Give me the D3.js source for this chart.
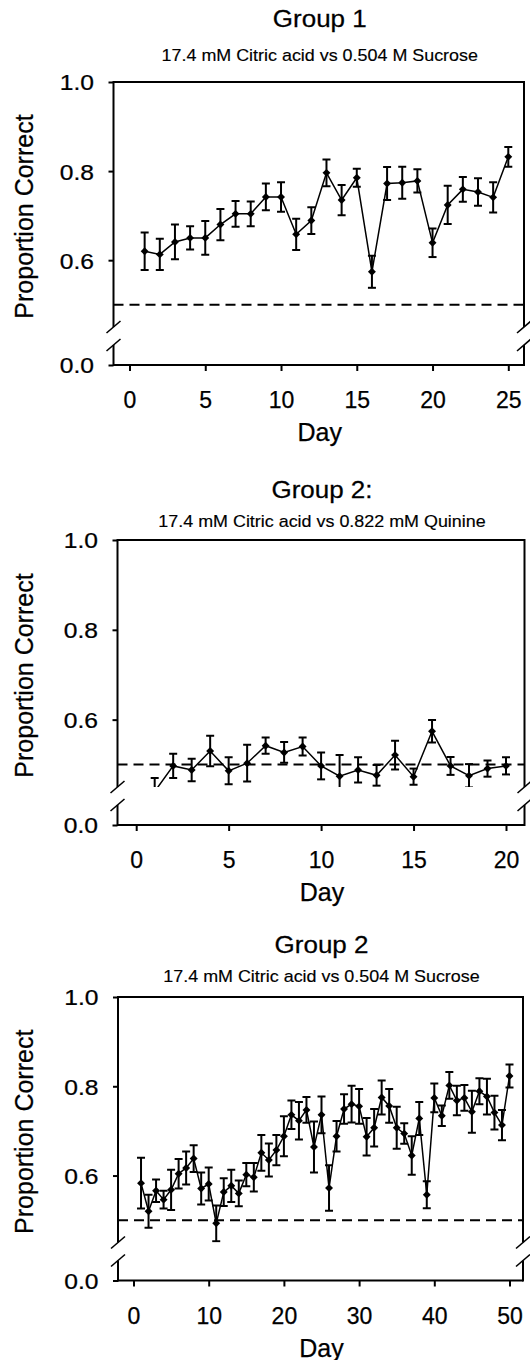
<!DOCTYPE html>
<html><head><meta charset="utf-8">
<script src="https://cdn.jsdelivr.net/npm/d3@7"></script>
<style>
body{margin:0;background:#fff}
svg{display:block;background:#fff}
text{font-family:"Liberation Sans",Arial,sans-serif;fill:#000;stroke:#000;stroke-width:0.25px}
</style>
</head><body>
<svg id="chart" width="530" height="1360"></svg>
<script>
// ---------- DATA ----------
const g1Days = [1,2,3,4,5,6,7,8,9,10,11,12,13,14,15,16,17,18,19,20,21,22,23,24,25];
const g1Mean = [0.620,0.613,0.641,0.650,0.650,0.680,0.704,0.704,0.742,0.742,0.658,0.689,0.796,0.735,0.785,0.574,0.772,0.774,0.778,0.639,0.724,0.759,0.753,0.741,0.832];
const g1Err  = [0.042,0.035,0.039,0.026,0.038,0.035,0.029,0.028,0.030,0.033,0.035,0.030,0.030,0.034,0.020,0.036,0.037,0.036,0.026,0.032,0.043,0.028,0.031,0.034,0.022];

const g2Days = [1,2,3,4,5,6,7,8,9,10,11,12,13,14,15,16,17,18,19,20];
const g2Mean = [0.440,0.497,0.488,0.530,0.486,0.503,0.542,0.527,0.540,0.497,0.474,0.488,0.476,0.521,0.473,0.574,0.497,0.475,0.491,0.497];
const g2Err  = [0.030,0.027,0.025,0.034,0.030,0.041,0.018,0.023,0.020,0.030,0.047,0.028,0.023,0.032,0.018,0.025,0.020,0.026,0.018,0.019];

const g3Days = [1,2,3,4,5,6,7,8,9,10,11,12,13,14,15,16,17,18,19,20,21,22,23,24,25,26,27,28,29,30,31,32,33,34,35,36,37,38,39,40,41,42,43,44,45,46,47,48,49,50];
const g3Mean = [0.583,0.520,0.566,0.546,0.568,0.604,0.617,0.638,0.571,0.581,
                0.493,0.563,0.577,0.560,0.602,0.596,0.651,0.635,0.657,0.688,
                0.736,0.723,0.747,0.664,0.736,0.572,0.688,0.749,0.760,0.755,
                0.687,0.707,0.775,0.756,0.707,0.694,0.645,0.728,0.557,0.774,
                0.734,0.802,0.768,0.774,0.743,0.789,0.777,0.741,0.713,0.823];
const g3Err  = [0.057,0.037,0.025,0.020,0.045,0.033,0.037,0.030,0.036,0.037,
                0.040,0.031,0.036,0.029,0.026,0.032,0.040,0.037,0.034,0.045,
                0.032,0.042,0.029,0.057,0.041,0.051,0.034,0.033,0.041,0.039,
                0.042,0.042,0.038,0.038,0.047,0.023,0.043,0.037,0.030,0.032,
                0.023,0.030,0.033,0.029,0.047,0.029,0.040,0.038,0.034,0.026];

const g1XTicks = [0,5,10,15,20,25];
const g2XTicks = [0,5,10,15,20];
const g3XTicks = [0,10,20,30,40,50];
const yTicksUpper = [0.6,0.8,1.0];
const yTicksLower = [0.0];
const chanceLevel = 0.5;
const breakValue = 0.45;

const titles = ["Group 1","Group 2:","Group 2"];
const subtitles = ["17.4 mM Citric acid vs 0.504 M Sucrose",
                   "17.4 mM Citric acid vs 0.822 mM Quinine",
                   "17.4 mM Citric acid vs 0.504 M Sucrose"];
const yLabel = "Proportion Correct";
const xLabel = "Day";

// ---------- LAYOUT ----------
const panels = [
  {title:titles[0], sub:subtitles[0], days:g1Days, mean:g1Mean, err:g1Err, xMax:25, xTicks:g1XTicks,
   L:113.5, R:524, T:82, B:365, x0:129.5, x1:508.3, titleY:27, subY:61},
  {title:titles[1], sub:subtitles[1], days:g2Days, mean:g2Mean, err:g2Err, xMax:20, xTicks:g2XTicks,
   L:117.5, R:524.5, T:540, B:825, x0:136.2, x1:506, titleY:498, subY:527},
  {title:titles[2], sub:subtitles[2], days:g3Days, mean:g3Mean, err:g3Err, xMax:50, xTicks:g3XTicks,
   L:118, R:523, T:997, B:1280.5, x0:133.5, x1:509.5, titleY:953, subY:982}
];

const svg = d3.select("#chart");
const fmt = d3.format(".1f");
const Y_STRETCH = 1.12;

panels.forEach((p, i) => {
  const g = svg.append("g");
  const brkY = p.B - 38;
  const lowBrkY = p.B - 20;
  const y = d3.scaleLinear().domain([breakValue, 1.0]).range([brkY, p.T]);
  const yLow = d3.scaleLinear().domain([0, breakValue]).range([p.B, brkY]);
  const x = d3.scaleLinear().domain([0, p.xMax]).range([p.x0, p.x1]);
  const cx = (p.L + p.R) / 2;

  // titles
  g.append("text").attr("transform",`translate(${cx + 1},${p.titleY}) scale(1.13,1)`)
    .attr("text-anchor","middle").style("font-size","23px").text(p.title);
  g.append("text").attr("transform",`translate(${cx + 1},${p.subY}) scale(1.12,1)`)
    .attr("text-anchor","middle").style("font-size","16px").style("stroke-width","0.15px").text(p.sub);

  // frame
  const frame = g.append("g").attr("stroke","#000").attr("stroke-width",2).attr("fill","none");
  frame.append("line").attr("x1",p.L).attr("x2",p.R).attr("y1",p.T).attr("y2",p.T);
  frame.append("line").attr("x1",p.L).attr("x2",p.R).attr("y1",p.B).attr("y2",p.B);
  [p.L, p.R].forEach(xx => {
    frame.append("line").attr("x1",xx).attr("x2",xx).attr("y1",p.T-1).attr("y2",brkY);
    frame.append("line").attr("x1",xx).attr("x2",xx).attr("y1",lowBrkY).attr("y2",p.B+1);
    [brkY, lowBrkY].forEach(yy => {
      frame.append("line").attr("x1",xx-7).attr("y1",yy+6).attr("x2",xx+7).attr("y2",yy-6)
        .attr("stroke-width",1.6);
    });
  });

  // y axis (upper & lower)
  const styleY = sel => {
    sel.select(".domain").remove();
    sel.selectAll(".tick line").attr("stroke","#000").attr("stroke-width",2);
    sel.selectAll(".tick text").attr("x",-19.5 / Y_STRETCH).attr("dy","0.36em")
      .attr("transform",`scale(${Y_STRETCH},1)`)
      .style("font-size","22px").style("font-family","'Liberation Sans',Arial,sans-serif")
      .attr("fill","#000").attr("stroke","#000").attr("stroke-width",0.25);
  };
  g.append("g").attr("transform",`translate(${p.L},0)`)
    .call(d3.axisLeft(y).tickValues(yTicksUpper).tickSize(5).tickFormat(fmt)).call(styleY);
  g.append("g").attr("transform",`translate(${p.L},0)`)
    .call(d3.axisLeft(yLow).tickValues(yTicksLower).tickSize(5).tickFormat(fmt)).call(styleY);

  // x axis
  g.append("g").attr("transform",`translate(0,${p.B})`)
    .call(d3.axisBottom(x).tickValues(p.xTicks).tickSize(6))
    .call(sel => {
      sel.select(".domain").remove();
      sel.selectAll(".tick line").attr("stroke","#000").attr("stroke-width",2);
      sel.selectAll(".tick text").attr("y",43).attr("dy",0)
        .style("font-size","23px").style("font-family","'Liberation Sans',Arial,sans-serif")
        .attr("fill","#000").attr("stroke","#000").attr("stroke-width",0.25);
    });

  // axis labels
  g.append("text").attr("x", cx + 1).attr("y", p.B + 76).attr("text-anchor","middle")
    .style("font-size","25px").text(xLabel);
  g.append("text").attr("transform",`translate(33,${(p.T + p.B)/2 - 7}) rotate(-90)`)
    .attr("text-anchor","middle").style("font-size","25px").text(yLabel);

  // chance line
  g.append("line").attr("x1",p.L).attr("x2",p.R).attr("y1",y(chanceLevel)).attr("y2",y(chanceLevel))
    .attr("stroke","#000").attr("stroke-width",2).attr("stroke-dasharray","10,6");

  // data, clipped to upper segment
  const clipId = "clip" + i;
  svg.append("clipPath").attr("id", clipId).append("rect")
    .attr("x", p.L).attr("y", p.T).attr("width", p.R - p.L).attr("height", brkY - p.T);
  const dg = g.append("g").attr("clip-path", `url(#${clipId})`);
  const pts = p.days.map((d, k) => ({d, m:p.mean[k], e:p.err[k]}));

  dg.append("path").datum(pts)
    .attr("d", d3.line().x(v => x(v.d)).y(v => y(v.m)))
    .attr("fill","none").attr("stroke","#000").attr("stroke-width",1.5);

  const eb = dg.append("g").attr("stroke","#000").attr("stroke-width",2);
  pts.forEach(v => {
    eb.append("line").attr("x1",x(v.d)).attr("x2",x(v.d)).attr("y1",y(v.m - v.e)).attr("y2",y(v.m + v.e));
    eb.append("line").attr("x1",x(v.d)-4).attr("x2",x(v.d)+4).attr("y1",y(v.m + v.e)).attr("y2",y(v.m + v.e));
    eb.append("line").attr("x1",x(v.d)-4).attr("x2",x(v.d)+4).attr("y1",y(v.m - v.e)).attr("y2",y(v.m - v.e));
  });

  const sym = d3.symbol().type(d3.symbolDiamond2).size(40);
  dg.selectAll("path.mk").data(pts).join("path").attr("class","mk")
    .attr("transform", v => `translate(${x(v.d)},${y(v.m)})`)
    .attr("d", sym).attr("fill","#000");
});
</script>
</body></html>
